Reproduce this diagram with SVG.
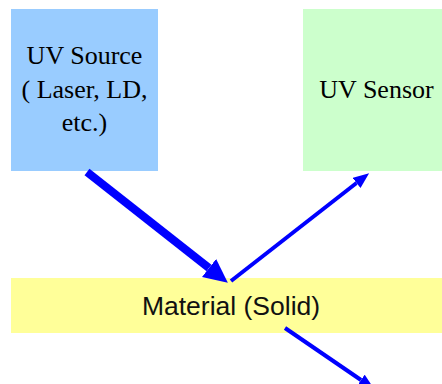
<svg xmlns="http://www.w3.org/2000/svg" width="442" height="384" viewBox="0 0 442 384">
  <style>
    .serif { font-family: "Liberation Serif", "Times New Roman", serif; font-size: 26px; fill: #000; text-anchor: middle; }
    .sans { font-family: "Liberation Sans", Arial, sans-serif; font-size: 26.5px; fill: #111; text-anchor: middle; }
    .ray { stroke: #0000FF; fill: none; stroke-linecap: butt; }
  </style>
  <defs>
    <marker id="headBig" markerUnits="userSpaceOnUse" markerWidth="25" markerHeight="24" refX="0" refY="11.5" orient="auto">
      <path d="M0,0 L24,11.5 L0,23 z" fill="#0000FF"/>
    </marker>
    <marker id="headSmall" markerUnits="userSpaceOnUse" markerWidth="17" markerHeight="14" refX="0" refY="6.5" orient="auto">
      <path d="M0,0 L16,6.5 L0,13 z" fill="#0000FF"/>
    </marker>
  </defs>
  <rect width="442" height="384" fill="#FFFFFF"/>
  <g id="uv-source">
    <rect x="11" y="9" width="147" height="162" fill="#99CCFF"/>
    <text class="serif" x="84.5" y="64">UV Source</text>
    <text class="serif" x="84.5" y="98">( Laser, LD,</text>
    <text class="serif" x="84.5" y="131">etc.)</text>
  </g>
  <g id="uv-sensor">
    <rect x="303" y="9" width="147" height="162" fill="#CCFFCC"/>
    <text class="serif" x="376.5" y="98">UV Sensor</text>
  </g>
  <g id="material">
    <rect x="11" y="278" width="440" height="55" fill="#FFFF99"/>
    <text class="sans" x="231" y="315">Material (Solid)</text>
  </g>
  <g id="connectors">
    <line class="ray" x1="87" y1="172" x2="209" y2="268" stroke-width="8" marker-end="url(#headBig)"/>
    <line class="ray" x1="231" y1="281" x2="356.5" y2="183" stroke-width="4" marker-end="url(#headSmall)"/>
    <line class="ray" x1="285" y1="328" x2="361" y2="380" stroke-width="4" marker-end="url(#headSmall)"/>
  </g>
</svg>
